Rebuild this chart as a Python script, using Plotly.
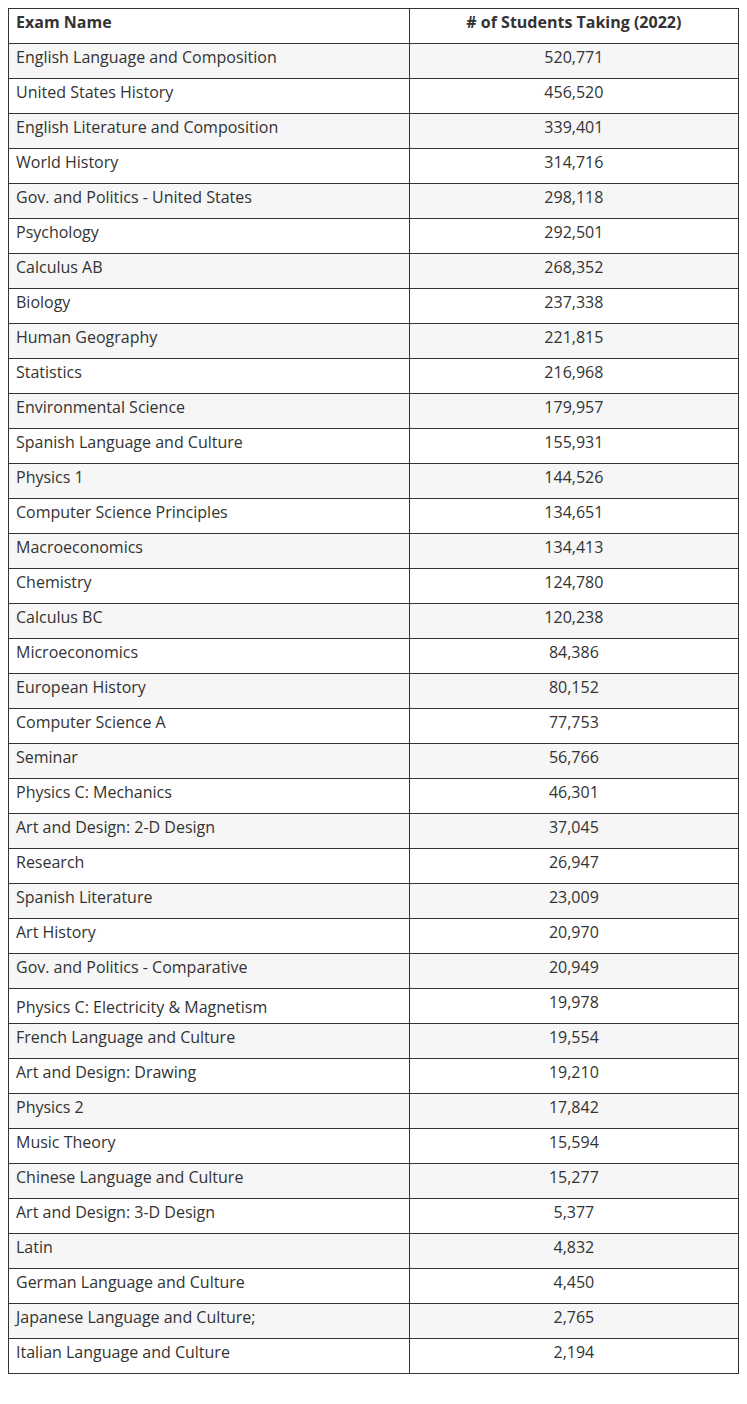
import plotly.graph_objects as go

exams = [
    "English Language and Composition",
    "United States History",
    "English Literature and Composition",
    "World History",
    "Gov. and Politics - United States",
    "Psychology",
    "Calculus AB",
    "Biology",
    "Human Geography",
    "Statistics",
    "Environmental Science",
    "Spanish Language and Culture",
    "Physics 1",
    "Computer Science Principles",
    "Macroeconomics",
    "Chemistry",
    "Calculus BC",
    "Microeconomics",
    "European History",
    "Computer Science A",
    "Seminar",
    "Physics C: Mechanics",
    "Art and Design: 2-D Design",
    "Research",
    "Spanish Literature",
    "Art History",
    "Gov. and Politics - Comparative",
    "Physics C: Electricity & Magnetism",
    "French Language and Culture",
    "Art and Design: Drawing",
    "Physics 2",
    "Music Theory",
    "Chinese Language and Culture",
    "Art and Design: 3-D Design",
    "Latin",
    "German Language and Culture",
    "Japanese Language and Culture;",
    "Italian Language and Culture",
]

students = [
    520771, 456520, 339401, 314716, 298118, 292501, 268352, 237338, 221815,
    216968, 179957, 155931, 144526, 134651, 134413, 124780, 120238, 84386,
    80152, 77753, 56766, 46301, 37045, 26947, 23009, 20970, 20949, 19978,
    19554, 19210, 17842, 15594, 15277, 5377, 4832, 4450, 2765, 2194,
]

headers = ["Exam Name", "# of Students Taking (2022)"]

# the page body adds 8px around the figure; keep the figure inside the window
W, H = 731, 1388
ROW_H = 35
LINE = dict(color="#333333", width=1)
FONT = dict(family="Open Sans", size=16, color="#333333")
COLS = [402, 328.5]
ALIGN = ["left", "center"]
row_fill = ["#f6f6f6" if i % 2 == 0 else "#ffffff" for i in range(len(exams))]
counts = [f"{v:,}" for v in students]

# plotly grows a row whose text holds "&", so the table is split after that row
# and the second part (its first row used as header) is laid over the extra pixels
split = exams.index("Physics C: Electricity & Magnetism") + 1
x_dom = [0, 730.5 / W]

fig = go.Figure()
fig.add_trace(
    go.Table(
        columnwidth=COLS,
        header=dict(
            values=headers,
            align=ALIGN,
            fill_color="#ffffff",
            line=LINE,
            font=dict(FONT, weight="bold"),
            height=ROW_H,
        ),
        cells=dict(
            values=[exams[:split], counts[:split]],
            align=ALIGN,
            fill_color=[row_fill[:split], row_fill[:split]],
            line=LINE,
            font=FONT,
            height=ROW_H,
        ),
        domain=dict(x=x_dom, y=[1 - (ROW_H * (split + 1) + 10) / H, 1]),
    )
)
fig.add_trace(
    go.Table(
        columnwidth=COLS,
        header=dict(
            values=[exams[split], counts[split]],
            align=ALIGN,
            fill_color=row_fill[split],
            line=LINE,
            font=FONT,
            height=ROW_H,
        ),
        cells=dict(
            values=[exams[split + 1:], counts[split + 1:]],
            align=ALIGN,
            fill_color=[row_fill[split + 1:], row_fill[split + 1:]],
            line=LINE,
            font=FONT,
            height=ROW_H,
        ),
        domain=dict(x=x_dom, y=[0, 1 - ROW_H * (split + 1) / H]),
    )
)

fig.update_layout(
    width=W,
    height=H,
    margin=dict(l=0, r=0, t=0, b=0),
    paper_bgcolor="#ffffff",
)

fig.write_html("out.html")
